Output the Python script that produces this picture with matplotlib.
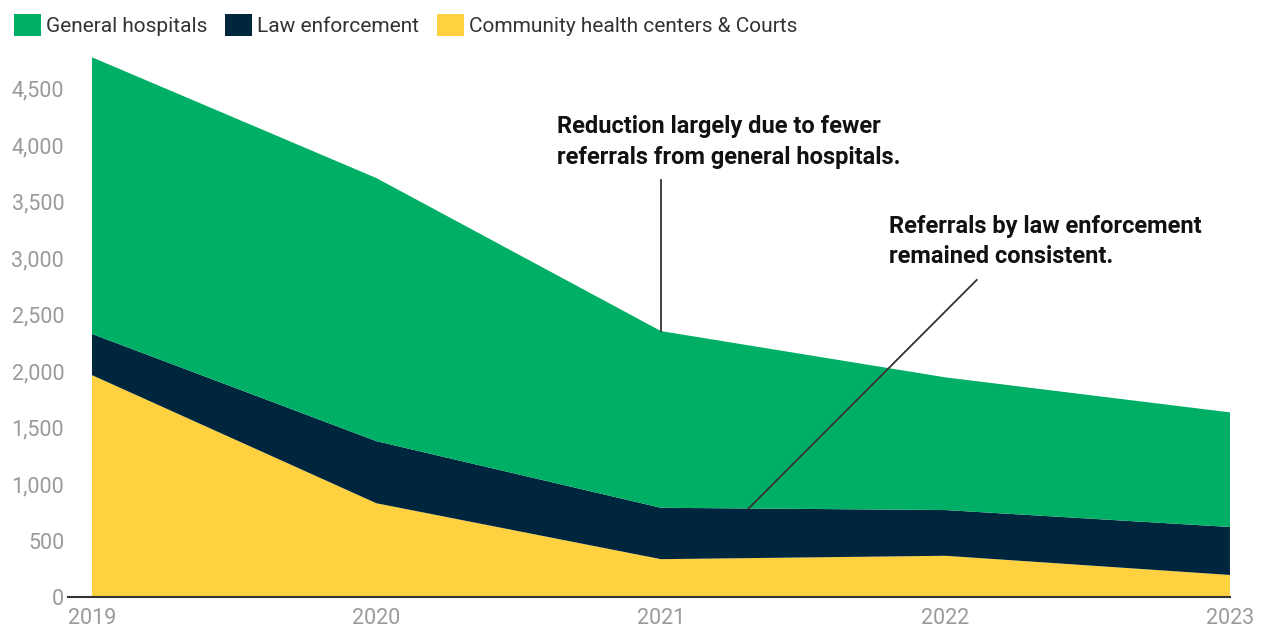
import matplotlib
matplotlib.use("Agg")
import matplotlib.pyplot as plt
from matplotlib.patches import Patch

plt.rcParams['font.family'] = ['Roboto', 'DejaVu Sans']

# referrals by source
years = [2019, 2020, 2021, 2022, 2023]
community_courts = [1965, 830, 335, 365, 195]
law_enforcement = [365, 550, 455, 405, 425]
general_hospitals = [2450, 2330, 1565, 1175, 1015]

labels = ['General hospitals', 'Law enforcement', 'Community health centers & Courts']
colors = ['#00AF66', '#00263E', '#FDD13F']

fig = plt.figure(figsize=(12.65, 6.31), dpi=100)
ax = fig.add_axes([0.0727, 0.0539, 0.8996, 0.8589])

ax.stackplot(years, community_courts, law_enforcement, general_hospitals,
             colors=[colors[2], colors[1], colors[0]], linewidth=0)

ax.set_xlim(2019, 2023)
ax.set_ylim(0, 4800)
ax.set_xticks(years)
ax.set_yticks(range(0, 5000, 500))
ax.set_yticklabels([f'{v:,}' for v in range(0, 5000, 500)])
ax.tick_params(axis='both', length=0, labelsize=15.5, colors='#9a9a9a')
ax.tick_params(axis='y', pad=20)
ax.tick_params(axis='x', pad=8)
for s in ax.spines.values():
    s.set_visible(False)

# baseline that sticks out a bit to the left
ax.plot([-0.021, 1.0], [0, 0], transform=ax.transAxes, color='#333333',
        lw=1.5, clip_on=False)

# annotations
ax.plot([2021.0, 2021.0], [3694, 2356], color='#333333', lw=1.3)
ax.text(2020.634, 4270, 'Reduction largely due to fewer\nreferrals from general hospitals.',
        fontsize=17, fontweight='bold', color='#111111', va='top', ha='left',
        linespacing=1.43)
ax.plot([2022.11, 2021.306], [2808, 779], color='#333333', lw=1.3)
ax.text(2021.80, 3380, 'Referrals by law enforcement\nremained consistent.',
        fontsize=17, fontweight='bold', color='#111111', va='top', ha='left',
        linespacing=1.35)

handles = [Patch(facecolor=c, edgecolor='none') for c in colors]
fig.legend(handles, labels, loc='upper left', bbox_to_anchor=(0.0, 1.0), ncol=3,
           frameon=False, fontsize=15, handlelength=1.3, handleheight=1.3,
           handletextpad=0.25, columnspacing=0.85, borderaxespad=0.25,
           labelcolor='#333333')

fig.savefig('out.png', dpi=100)
